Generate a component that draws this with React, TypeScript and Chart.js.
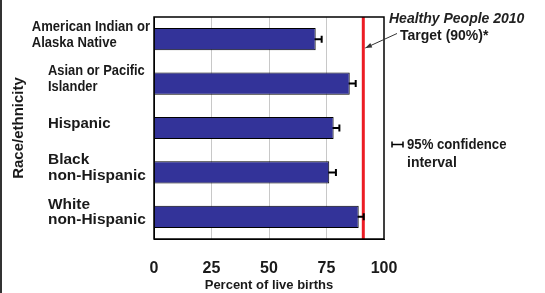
import React, { useEffect, useRef } from 'react';
import { Chart, registerables } from 'chart.js';

Chart.register(...registerables);

const categoryLines: string[][] = [
  ['American Indian or', 'Alaska Native'],
  ['Asian or Pacific', 'Islander'],
  ['Hispanic'],
  ['Black', 'non-Hispanic'],
  ['White', 'non-Hispanic'],
];
const percentValues = [70.3, 85.1, 78.1, 76.2, 89.0];
const ciLower = [67.7, 82.5, 75.6, 73.3, 86.8];
const ciUpper = [72.9, 87.7, 80.6, 79.1, 91.2];
const targetLineValue = 91;
const xTickValues = [0, 25, 50, 75, 100];
const yAxisTitle = 'Race/ethnicity';
const xAxisTitle = 'Percent of live births';
const targetTitle = 'Healthy People 2010';
const targetSubtitle = 'Target (90%)*';
const legendLines = ['95% confidence', 'interval'];

const FONT = '"Liberation Sans", Arial, sans-serif';
const TEXT = '#1a1a1a';

export default function App() {
  const ref = useRef<HTMLCanvasElement | null>(null);

  useEffect(() => {
    document.body.style.margin = '0';
    const canvas = ref.current;
    if (!canvas) return;

    const condense = [0.87, 0.86, 1, 1.03, 1.03];

    const overlay = {
      id: 'overlay',
      beforeDatasetsDraw(chart: any) {
        const { ctx, chartArea } = chart;
        const xs = chart.scales.x;
        const ys = chart.scales.y;
        ctx.save();
        ctx.strokeStyle = '#ec1c24';
        ctx.lineWidth = 3;
        const tx = xs.getPixelForValue(targetLineValue);
        ctx.beginPath();
        ctx.moveTo(tx, chartArea.top);
        ctx.lineTo(tx, chartArea.bottom);
        ctx.stroke();
        ctx.strokeStyle = '#000';
        ctx.lineWidth = 2;
        percentValues.forEach((_, i) => {
          const y = ys.getPixelForValue(i);
          const x1 = xs.getPixelForValue(ciLower[i]);
          const x2 = xs.getPixelForValue(ciUpper[i]);
          ctx.beginPath();
          ctx.moveTo(x1, y);
          ctx.lineTo(x2, y);
          ctx.moveTo(x1, y - 3.5);
          ctx.lineTo(x1, y + 3.5);
          ctx.moveTo(x2, y - 3.5);
          ctx.lineTo(x2, y + 3.5);
          ctx.stroke();
        });
        ctx.restore();
      },
      afterDraw(chart: any) {
        const { ctx, chartArea } = chart;
        const ys = chart.scales.y;
        ctx.save();
        // page frame (left edge)
        ctx.fillStyle = '#333';
        ctx.fillRect(0, 0, 2, chart.height);

        ctx.strokeStyle = '#000';
        ctx.lineWidth = 1.5;
        ctx.strokeRect(chartArea.left, chartArea.top, chartArea.right - chartArea.left, chartArea.bottom - chartArea.top);

        ctx.fillStyle = TEXT;
        ctx.font = `bold 15px ${FONT}`;
        ctx.textBaseline = 'middle';
        ctx.textAlign = 'left';
        const lh = 15.5;
        categoryLines.forEach((lines, i) => {
          const sx = condense[i];
          const maxW = Math.max(...lines.map((l) => ctx.measureText(l).width)) * sx;
          const right = chartArea.left - 4;
          const left = Math.min(48, right - maxW);
          const cy = ys.getPixelForValue(i) - 4.5;
          const y0 = cy - ((lines.length - 1) * lh) / 2;
          lines.forEach((line, j) => {
            ctx.save();
            ctx.translate(left, y0 + j * lh);
            ctx.scale(sx, 1);
            ctx.fillText(line, 0, 0);
            ctx.restore();
          });
        });

        ctx.save();
        ctx.translate(18.5, (chartArea.top + chartArea.bottom) / 2);
        ctx.rotate(-Math.PI / 2);
        ctx.textAlign = 'center';
        ctx.font = `bold 15px ${FONT}`;
        ctx.fillText(yAxisTitle, 0, 0);
        ctx.restore();

        ctx.textAlign = 'center';
        ctx.font = `bold 13px ${FONT}`;
        ctx.fillText(xAxisTitle, (chartArea.left + chartArea.right) / 2, 285.5);
        ctx.textAlign = 'left';

        ctx.font = `italic bold 14px ${FONT}`;
        ctx.fillStyle = '#222';
        ctx.fillText(targetTitle, 389, 19.5);
        ctx.font = `bold 14px ${FONT}`;
        ctx.fillStyle = TEXT;
        ctx.fillText(targetSubtitle, 400, 36);

        const tx = chart.scales.x.getPixelForValue(targetLineValue);
        const ax0 = 397, ay0 = 33.5;
        const ax1 = tx + 2, ay1 = 48;
        ctx.strokeStyle = '#333';
        ctx.lineWidth = 1;
        ctx.beginPath();
        ctx.moveTo(ax0, ay0);
        ctx.lineTo(ax1, ay1);
        ctx.stroke();
        const ang = Math.atan2(ay1 - ay0, ax1 - ax0);
        ctx.fillStyle = '#333';
        ctx.beginPath();
        ctx.moveTo(ax1, ay1);
        ctx.lineTo(ax1 - 7 * Math.cos(ang - 0.35), ay1 - 7 * Math.sin(ang - 0.35));
        ctx.lineTo(ax1 - 7 * Math.cos(ang + 0.35), ay1 - 7 * Math.sin(ang + 0.35));
        ctx.closePath();
        ctx.fill();

        ctx.strokeStyle = '#000';
        ctx.lineWidth = 1.5;
        ctx.beginPath();
        ctx.moveTo(392, 144.5);
        ctx.lineTo(403, 144.5);
        ctx.moveTo(392, 141.5);
        ctx.lineTo(392, 147.5);
        ctx.moveTo(403, 141.5);
        ctx.lineTo(403, 147.5);
        ctx.stroke();
        ctx.fillStyle = TEXT;
        ctx.font = `bold 14px ${FONT}`;
        ctx.save();
        ctx.translate(407, 145.5);
        ctx.scale(0.94, 1);
        ctx.fillText(legendLines[0], 0, 0);
        ctx.restore();
        ctx.fillText(legendLines[1], 407, 163);
        ctx.restore();
      },
    };

    const chart = new Chart(canvas, {
      type: 'bar',
      data: {
        labels: categoryLines.map((l) => l.join(' ')),
        datasets: [
          {
            data: percentValues,
            backgroundColor: '#333399',
            borderColor: '#000',
            borderWidth: 1,
            barPercentage: 0.5,
            categoryPercentage: 1,
          },
        ],
      },
      options: {
        indexAxis: 'y',
        responsive: false,
        animation: false,
        devicePixelRatio: 1,
        layout: { padding: { left: 154, right: 161, top: 17, bottom: 0 } },
        plugins: { legend: { display: false }, tooltip: { enabled: false } },
        scales: {
          x: {
            min: 0,
            max: 100,
            afterBuildTicks: (axis: any) => {
              axis.ticks = xTickValues.map((v) => ({ value: v }));
            },
            afterFit: (axis: any) => {
              axis.height = 54;
            },
            ticks: {
              color: TEXT,
              font: { family: FONT, size: 16, weight: 'bold' },
              padding: 20,
            },
            grid: {
              drawTicks: false,
              color: (c: any) => (c.tick && (c.tick.value === 0 || c.tick.value === 100) ? 'rgba(0,0,0,0)' : '#c8c8c8'),
              lineWidth: 1,
            },
            border: { display: true, color: '#000', width: 1 },
            title: { display: false },
          },
          y: {
            ticks: { display: false },
            grid: { display: false, drawTicks: false },
            border: { display: true, color: '#000', width: 1 },
          },
        },
      },
      plugins: [overlay],
    } as any);

    return () => chart.destroy();
  }, []);

  return (
    <div style={{ width: 545, height: 293 }}>
      <canvas ref={ref} width={545} height={293} style={{ display: 'block' }} />
    </div>
  );
}
